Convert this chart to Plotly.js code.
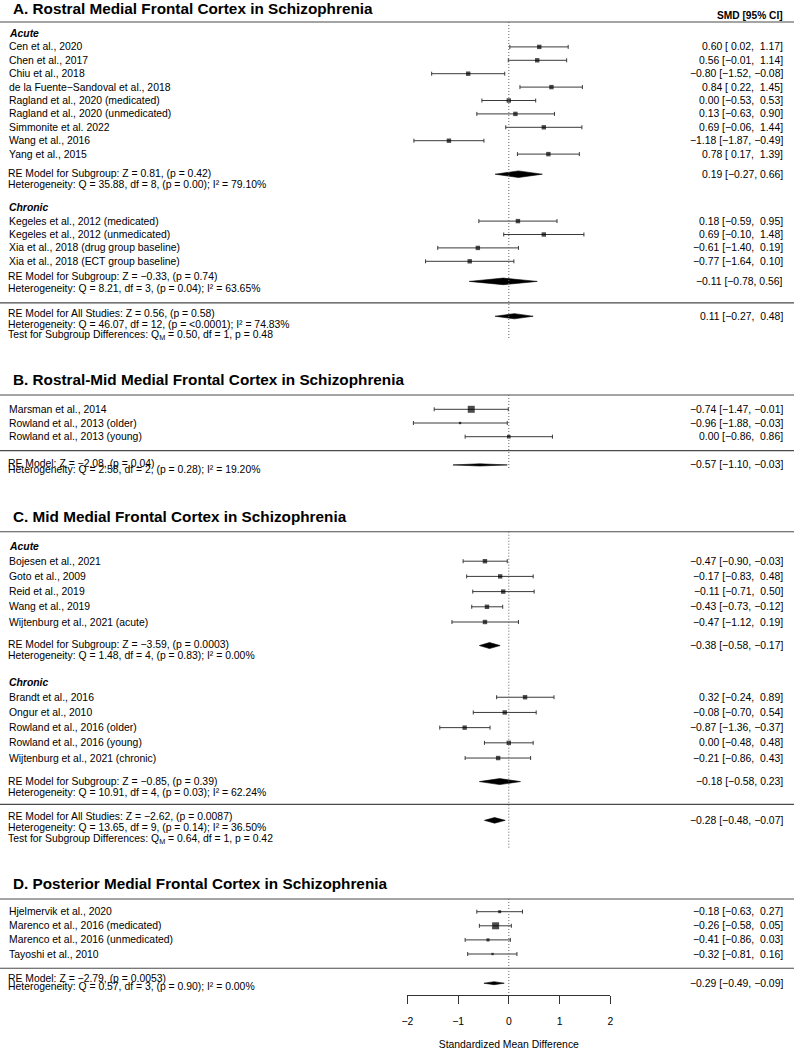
<!DOCTYPE html>
<html>
<head>
<meta charset="utf-8">
<script src="https://cdn.plot.ly/plotly-3.0.1.min.js"></script>
<style>html,body{margin:0;padding:0;background:#fff}#chart{width:794px;height:1050px}</style>
</head>
<body>
<div id="chart"></div>
<script>
// ================= DATA =================
const colHeader = "SMD [95% CI]";
const axisTitle = "Standardized Mean Difference";
const tickValues = [-2, -1, 0, 1, 2];

// ---- Panel A ----
const titleA = "A. Rostral Medial Frontal Cortex in Schizophrenia";
const groupA1 = "Acute";
const studiesA1 = ["Cen et al., 2020", "Chen et al., 2017", "Chiu et al., 2018",
  "de la Fuente\u2212Sandoval et al., 2018", "Ragland et al., 2020 (medicated)",
  "Ragland et al., 2020 (unmedicated)", "Simmonite et al. 2022", "Wang et al., 2016", "Yang et al., 2015"];
const estA1 = [0.60, 0.56, -0.80, 0.84, 0.00, 0.13, 0.69, -1.18, 0.78];
const loA1  = [0.02, -0.01, -1.52, 0.22, -0.53, -0.63, -0.06, -1.87, 0.17];
const hiA1  = [1.17, 1.14, -0.08, 1.45, 0.53, 0.90, 1.44, -0.49, 1.39];
const summaryA1 = [0.19, -0.27, 0.66];
const statsA1 = ["RE Model for Subgroup: Z = 0.81, (p = 0.42)",
  "Heterogeneity: Q = 35.88, df = 8, (p = 0.00); I\u00b2 = 79.10%"];

const groupA2 = "Chronic";
const studiesA2 = ["Kegeles et al., 2012 (medicated)", "Kegeles et al., 2012 (unmedicated)",
  "Xia et al., 2018 (drug group baseline)", "Xia et al., 2018 (ECT group baseline)"];
const estA2 = [0.18, 0.69, -0.61, -0.77];
const loA2  = [-0.59, -0.10, -1.40, -1.64];
const hiA2  = [0.95, 1.48, 0.19, 0.10];
const summaryA2 = [-0.11, -0.78, 0.56];
const statsA2 = ["RE Model for Subgroup: Z = \u22120.33, (p = 0.74)",
  "Heterogeneity: Q = 8.21, df = 3, (p = 0.04); I\u00b2 = 63.65%"];

const overallA = [0.11, -0.27, 0.48];
const statsAall = ["RE Model for All Studies: Z = 0.56, (p = 0.58)",
  "Heterogeneity: Q = 46.07, df = 12, (p = <0.0001); I\u00b2 = 74.83%",
  "Test for Subgroup Differences: Q<sub>M</sub> = 0.50, df = 1, p = 0.48"];

// ---- Panel B ----
const titleB = "B. Rostral-Mid Medial Frontal Cortex in Schizophrenia";
const studiesB = ["Marsman et al., 2014", "Rowland et al., 2013 (older)", "Rowland et al., 2013 (young)"];
const estB = [-0.74, -0.96, 0.00];
const loB  = [-1.47, -1.88, -0.86];
const hiB  = [-0.01, -0.03, 0.86];
const overallB = [-0.57, -1.10, -0.03];
const statsB = ["RE Model: Z = \u22122.08, (p = 0.04)",
  "Heterogeneity: Q = 2.58, df = 2, (p = 0.28); I\u00b2 = 19.20%"];

// ---- Panel C ----
const titleC = "C. Mid Medial Frontal Cortex in Schizophrenia";
const groupC1 = "Acute";
const studiesC1 = ["Bojesen et al., 2021", "Goto et al., 2009", "Reid et al., 2019",
  "Wang et al., 2019", "Wijtenburg et al., 2021 (acute)"];
const estC1 = [-0.47, -0.17, -0.11, -0.43, -0.47];
const loC1  = [-0.90, -0.83, -0.71, -0.73, -1.12];
const hiC1  = [-0.03, 0.48, 0.50, -0.12, 0.19];
const summaryC1 = [-0.38, -0.58, -0.17];
const statsC1 = ["RE Model for Subgroup: Z = \u22123.59, (p = 0.0003)",
  "Heterogeneity: Q = 1.48, df = 4, (p = 0.83); I\u00b2 = 0.00%"];

const groupC2 = "Chronic";
const studiesC2 = ["Brandt et al., 2016", "Ongur et al., 2010", "Rowland et al., 2016 (older)",
  "Rowland et al., 2016 (young)", "Wijtenburg et al., 2021 (chronic)"];
const estC2 = [0.32, -0.08, -0.87, 0.00, -0.21];
const loC2  = [-0.24, -0.70, -1.36, -0.48, -0.86];
const hiC2  = [0.89, 0.54, -0.37, 0.48, 0.43];
const summaryC2 = [-0.18, -0.58, 0.23];
const statsC2 = ["RE Model for Subgroup: Z = \u22120.85, (p = 0.39)",
  "Heterogeneity: Q = 10.91, df = 4, (p = 0.03); I\u00b2 = 62.24%"];

const overallC = [-0.28, -0.48, -0.07];
const statsCall = ["RE Model for All Studies: Z = \u22122.62, (p = 0.0087)",
  "Heterogeneity: Q = 13.65, df = 9, (p = 0.14); I\u00b2 = 36.50%",
  "Test for Subgroup Differences: Q<sub>M</sub> = 0.64, df = 1, p = 0.42"];

// ---- Panel D ----
const titleD = "D. Posterior Medial Frontal Cortex in Schizophrenia";
const studiesD = ["Hjelmervik et al., 2020", "Marenco et al., 2016 (medicated)",
  "Marenco et al., 2016 (unmedicated)", "Tayoshi et al., 2010"];
const estD = [-0.18, -0.26, -0.41, -0.32];
const loD  = [-0.63, -0.58, -0.86, -0.81];
const hiD  = [0.27, 0.05, 0.03, 0.16];
const overallD = [-0.29, -0.49, -0.09];
const statsD = ["RE Model: Z = \u22122.79, (p = 0.0053)",
  "Heterogeneity: Q = 0.57, df = 3, (p = 0.90); I\u00b2 = 0.00%"];

// ================= STRUCTURE =================
const panels = [
  { title: titleA, fixedSize: true, groups: [
      { name: groupA1, labels: studiesA1, est: estA1, lo: loA1, hi: hiA1, sum: summaryA1, stats: statsA1 },
      { name: groupA2, labels: studiesA2, est: estA2, lo: loA2, hi: hiA2, sum: summaryA2, stats: statsA2 }],
    overall: { sum: overallA, stats: statsAall } },
  { title: titleB, fixedSize: false, groups: [
      { name: null, labels: studiesB, est: estB, lo: loB, hi: hiB }],
    overall: { sum: overallB, stats: statsB } },
  { title: titleC, fixedSize: true, groups: [
      { name: groupC1, labels: studiesC1, est: estC1, lo: loC1, hi: hiC1, sum: summaryC1, stats: statsC1 },
      { name: groupC2, labels: studiesC2, est: estC2, lo: loC2, hi: hiC2, sum: summaryC2, stats: statsC2 }],
    overall: { sum: overallC, stats: statsCall } },
  { title: titleD, fixedSize: false, groups: [
      { name: null, labels: studiesD, est: estD, lo: loD, hi: hiD }],
    overall: { sum: overallD, stats: statsD } }
];

// ================= GEOMETRY / STYLE =================
const W = 794, H = 1050;
const FONT = 'Liberation Sans, Arial, Helvetica, sans-serif';
const FS = 10.4;
const LEFT_X = 8, STATS_X = 7, TITLE_X = 12, RIGHT_X = 784;
const AX_LEFT = 407.3, AX_RIGHT = 610.3, AX_Y = 995;
const SQ = 4.4;          // square side for psize = 1
const SQ_UNIT = 4.67;    // px per psize unit (weighted panels)
const geom = [
  { titleY: 8, sepY: 22, firstY: 33.5, step: 13.4, sumGap: 1.5, headGap: 2.5, sepGap: 1.6, allGap: 1.0,
    refEnd: 338, dh: 3.3, dhAll: 2.6, subOff: [[-1, 10.7], [-5, 6.6]], allOff: [-2.4, 8.6, 19] },
  { titleY: 379.3, sepY: 395, firstY: 409.3, step: 13.7, sepGap: 1.02, allGap: 1.04,
    refEnd: 470, dhAll: 1.1, allOff: [-1.7, 4.3] },
  { titleY: 516, sepY: 531.7, firstY: 546, step: 15.2, sumGap: 1.55, headGap: 2.4, sepGap: 1.5, allGap: 1.05,
    refEnd: 848, dh: 3.0, dhAll: 2.8, subOff: [[-0.7, 10], [-0.6, 11]], allOff: [-4, 7.6, 19] },
  { titleY: 883.3, sepY: 899, firstY: 911.7, step: 14.1, sepGap: 1.01, allGap: 1.06,
    refEnd: 995, dhAll: 1.5, allOff: [-5, 3.4] }
];

// ================= BUILD =================
const traces = [], annotations = [], shapes = [];
function fmt(v) { return (v < 0 ? '\u2212' : '') + Math.abs(v).toFixed(2); }
function ciText(s, pad) {
  const p = v => (pad && v >= 0 ? '\u00a0' : '') + fmt(v);
  return fmt(s[0]) + ' [' + p(s[1]) + ', ' + p(s[2]) + ']';
}
function txt(xpx, y, text, anchor, extra) {
  annotations.push(Object.assign({
    xref: 'paper', yref: 'y', x: xpx / W, y: y, text: text, xanchor: anchor, yanchor: 'middle',
    showarrow: false, borderpad: 0, font: { family: FONT, size: FS, color: '#000' }
  }, extra || {}));
}
function hline(y) {
  shapes.push({ type: 'line', xref: 'paper', yref: 'y', x0: 0, x1: 1, y0: y, y1: y,
    line: { color: '#4a4a4a', width: 1.1 } });
}
function diamond(s, y, h) {
  traces.push({ type: 'scatter', mode: 'lines', xaxis: 'x', yaxis: 'y',
    x: [s[1], s[0], s[2], s[0], s[1]], y: [y, y - h, y, y + h, y],
    fill: 'toself', fillcolor: '#000', line: { color: '#000', width: 0.6 }, hoverinfo: 'skip' });
}
function psizes(G, fixed) {
  if (fixed) return G.est.map(() => SQ);
  const wi = G.lo.map((l, i) => 1 / ((G.hi[i] - l) / (2 * 1.96)));
  const mn = Math.min(...wi), mx = Math.max(...wi);
  return wi.map(w => (0.5 + (w - mn) / (mx - mn)) * SQ_UNIT);
}

txt(RIGHT_X, 15, '<b>' + colHeader + '</b>', 'right', { font: { family: FONT, size: 10.2, color: '#000' } });

panels.forEach((P, pi) => {
  const g = geom[pi];
  txt(TITLE_X, g.titleY, '<b>' + P.title + '</b>', 'left', { font: { family: FONT, size: 15.3, color: '#000' } });
  hline(g.sepY);
  shapes.push({ type: 'line', xref: 'x', yref: 'y', x0: 0, x1: 0, y0: g.sepY, y1: g.refEnd,
    line: { color: '#666', width: 1, dash: '1px,2px' } });
  let y = g.firstY, lastY = null;
  P.groups.forEach((G, gi) => {
    if (gi > 0) y = lastY + g.headGap * g.step;
    if (G.name) { txt(LEFT_X, y, '<b><i>' + G.name + '</i></b>', 'left'); y += g.step; }
    const ys = [];
    G.labels.forEach((lab, i) => {
      ys.push(y);
      txt(LEFT_X, y, lab, 'left');
      txt(RIGHT_X, y, ciText([G.est[i], G.lo[i], G.hi[i]], true), 'right');
      y += g.step;
    });
    y -= g.step;
    traces.push({ type: 'scatter', mode: 'markers', xaxis: 'x', yaxis: 'y', x: G.est, y: ys,
      marker: { symbol: 'square', color: '#000', size: psizes(G, P.fixedSize), line: { width: 0 } },
      error_x: { type: 'data', symmetric: false,
        array: G.hi.map((h, i) => h - G.est[i]), arrayminus: G.lo.map((l, i) => G.est[i] - l),
        color: '#3a3a3a', thickness: 1, width: 2 },
      cliponaxis: false, hoverinfo: 'skip' });
    lastY = y;
    if (G.sum) {
      const sy = y + g.sumGap * g.step;
      diamond(G.sum, sy, g.dh);
      txt(RIGHT_X, sy, ciText(G.sum, false), 'right');
      G.stats.forEach((s, k) => txt(STATS_X, sy + g.subOff[gi][k], s, 'left'));
      lastY = sy;
    }
  });
  const sep2 = lastY + g.sepGap * g.step;
  hline(sep2);
  const oy = sep2 + g.allGap * g.step;
  diamond(P.overall.sum, oy, g.dhAll);
  txt(RIGHT_X, oy, ciText(P.overall.sum, P.groups.length > 1), 'right');
  P.overall.stats.forEach((s, k) => txt(STATS_X, oy + g.allOff[k], s, 'left'));
});

const layout = {
  width: W, height: H, margin: { l: 0, r: 0, t: 0, b: 0 },
  paper_bgcolor: '#fff', plot_bgcolor: 'rgba(0,0,0,0)', showlegend: false, hovermode: false,
  font: { family: FONT, size: FS, color: '#000' },
  xaxis: { domain: [AX_LEFT / W, AX_RIGHT / W], range: [-2, 2], anchor: 'free', position: (H - AX_Y) / H,
    showline: true, linecolor: '#333', linewidth: 1, ticks: 'outside', ticklen: 8, tickwidth: 1, tickcolor: '#333',
    tickvals: tickValues, showgrid: false, zeroline: false, automargin: false, fixedrange: true,
    ticklabelstandoff: 9, tickfont: { family: FONT, size: FS, color: '#000' },
    title: { text: axisTitle, font: { family: FONT, size: FS, color: '#000' }, standoff: 15 } },
  yaxis: { domain: [0, 1], range: [H, 0], visible: false, fixedrange: true },
  annotations: annotations, shapes: shapes
};
Plotly.newPlot('chart', traces, layout, { staticPlot: true, displayModeBar: false });
</script>
</body>
</html>
